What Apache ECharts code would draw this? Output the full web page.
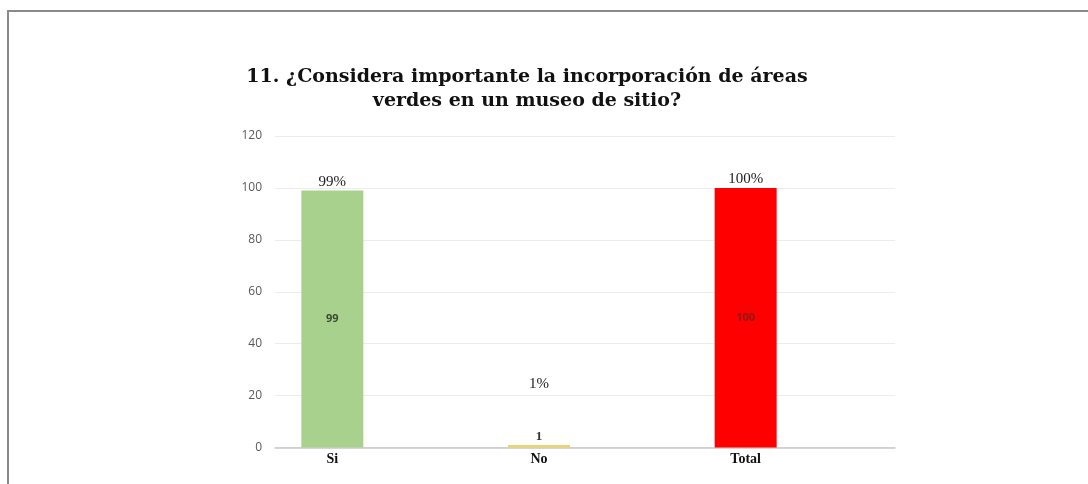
<!DOCTYPE html>
<html>
<head>
<meta charset="utf-8">
<script src="https://cdn.jsdelivr.net/npm/echarts@6/dist/echarts.min.js"></script>
<style>html,body{margin:0;padding:0;background:#fff;}#c{width:1088px;height:484px;}</style>
</head>
<body>
<div id="c"></div>
<script>
const categories = ['Si', 'No', 'Total'];
const counts = [99, 1, 100];
const percents = ['99%', '1%', '100%'];
const barColors = ['#a9d18e', '#e8d56e', '#ff0000'];
const innerLabelColors = ['#3a4a30', '#333333', '#8a1a1a'];
const yTicks = [0, 20, 40, 60, 80, 100, 120];

const chart = echarts.init(document.getElementById('c'));
const serif = '"Liberation Serif", "DejaVu Serif", serif';
const sans = '"Open Sans", "Noto Sans", sans-serif';

chart.setOption({
  animation: false,
  backgroundColor: '#fff',
  title: {
    text: '11. ¿Considera importante la incorporación de áreas\nverdes en un museo de sitio?',
    left: 522, top: 60, textAlign: 'center',
    textStyle: { fontFamily: '"DejaVu Serif", serif', fontWeight: 'bold', fontSize: 19, lineHeight: 24, color: '#111', align: 'center' }
  },
  graphic: [
    { type: 'rect', shape: { x: 7, y: 10, width: 1081, height: 2 }, style: { fill: '#8a8a8a' } },
    { type: 'rect', shape: { x: 7, y: 10, width: 2, height: 474 }, style: { fill: '#8a8a8a' } }
  ],
  grid: [
    { left: 275, right: 193, top: 136, bottom: 36.5 },
    { left: 229, right: 239, top: 136, bottom: 36.5 }
  ],
  xAxis: [
    { type: 'category', gridIndex: 0, data: categories, axisLine: { lineStyle: { color: '#c8c8c8', width: 1.5 } },
      axisTick: { show: false }, axisLabel: { show: false } },
    { type: 'category', gridIndex: 1, data: categories, axisLine: { show: false }, axisTick: { show: false },
      axisLabel: { margin: 5, fontFamily: serif, fontWeight: 'bold', fontSize: 14, color: '#111' } }
  ],
  yAxis: [
    { type: 'value', gridIndex: 0, min: yTicks[0], max: yTicks[yTicks.length - 1], interval: 20,
      axisLine: { show: false }, axisTick: { show: false },
      axisLabel: { margin: 13, fontFamily: sans, fontSize: 12, color: '#595959' },
      splitLine: { lineStyle: { color: '#ececec', width: 1 } } },
    { type: 'value', gridIndex: 1, min: yTicks[0], max: yTicks[yTicks.length - 1], interval: 20, show: false }
  ],
  series: [
    {
      type: 'bar', xAxisIndex: 1, yAxisIndex: 1, barWidth: 62,
      data: counts.map((v, i) => ({
        value: v,
        itemStyle: { color: barColors[i] },
        label: {
          show: true,
          position: v < 5 ? 'top' : 'inside',
          distance: 2,
          fontFamily: v < 5 ? serif : sans,
          fontWeight: 'bold', fontSize: v < 5 ? 13 : 11,
          color: innerLabelColors[i]
        }
      }))
    },
    {
      type: 'bar', xAxisIndex: 1, yAxisIndex: 1, barWidth: 62, barGap: '-100%', silent: true,
      itemStyle: { color: 'transparent' },
      data: counts.map((v, i) => ({
        value: v,
        label: {
          show: true, position: 'top', distance: 1,
          offset: v < 5 ? [0, -52] : [0, 0],
          formatter: () => percents[i],
          fontFamily: serif, fontSize: 15, color: '#222'
        }
      }))
    }
  ]
});
</script>
</body>
</html>
